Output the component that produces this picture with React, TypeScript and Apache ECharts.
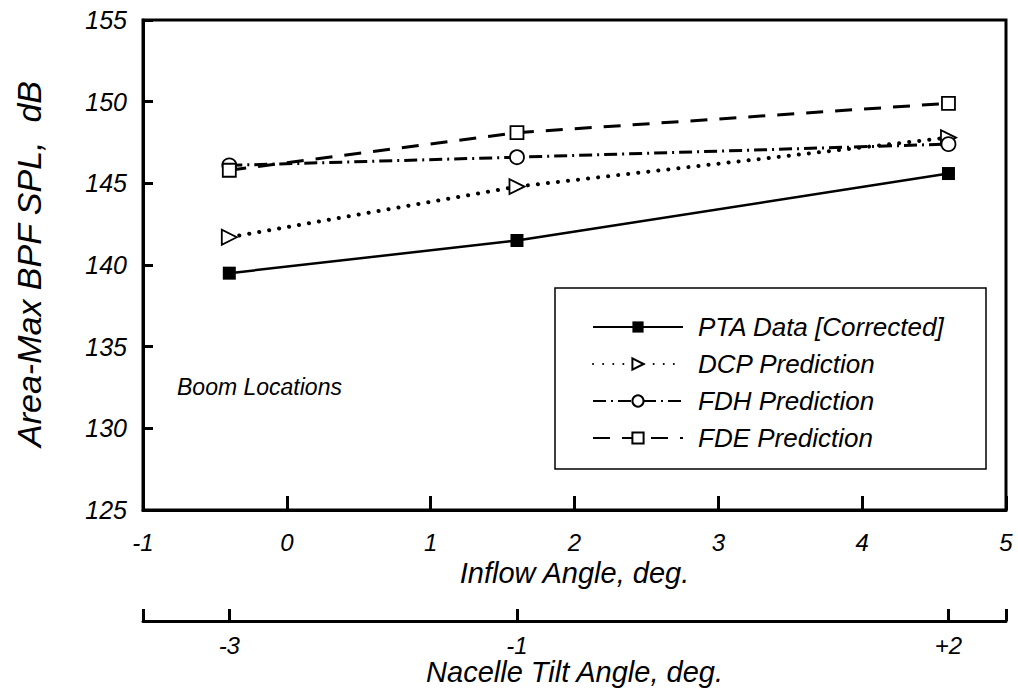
import React, { useEffect, useRef } from "react";
import * as echarts from "echarts";

const inflowAngle = [-0.4, 1.6, 4.6];
const ptaData = [139.5, 141.5, 145.6];
const dcpPred = [141.7, 144.8, 147.8];
const fdhPred = [146.1, 146.6, 147.4];
const fdePred = [145.8, 148.1, 149.9];
const nacelleTicks = [-3, -1, 2];
const nacelleOffset = 2.6; // inflow = nacelle + offset

const FONT = "'Liberation Sans', Arial, Helvetica, sans-serif";

export default function App() {
  const ref = useRef<HTMLDivElement>(null);
  useEffect(() => {
    if (!ref.current) return;
    const chart = echarts.init(ref.current, null, { renderer: "svg" });
    const pts = (ys: number[]) => inflowAngle.map((x, i) => [x, ys[i]]);
    const txt = { color: "#000", fontFamily: FONT, fontStyle: "italic" as const };
    const base = {
      type: "line" as const,
      xAxisIndex: 0,
      yAxisIndex: 0,
      emphasis: { disabled: true },
      z: 3,
    };
    chart.setOption({
      animation: false,
      backgroundColor: "#fff",
      grid: [
        { left: 143, right: 12, top: 20, bottom: 184, show: true, borderColor: "#000", borderWidth: 3 },
        { left: 143, right: 12, top: 604, bottom: 73 },
      ],
      xAxis: [
        {
          gridIndex: 0,
          type: "value",
          min: -1,
          max: 5,
          interval: 1,
          splitLine: { show: false },
          axisLine: { onZero: false, lineStyle: { color: "#000", width: 3 } },
          axisTick: { inside: true, length: 14, lineStyle: { color: "#000", width: 3 } },
          axisLabel: { ...txt, fontSize: 24, margin: 20 },
          name: "Inflow Angle, deg.",
          nameLocation: "middle",
          nameGap: 28,
          nameTextStyle: { ...txt, fontSize: 29 },
        },
        {
          gridIndex: 1,
          type: "value",
          min: -1 - nacelleOffset,
          max: 5 - nacelleOffset,
          splitLine: { show: false },
          axisLine: { onZero: false, lineStyle: { color: "#000", width: 3 } },
          axisTick: {
            inside: true,
            length: 12,
            customValues: [-1 - nacelleOffset, ...nacelleTicks, 5 - nacelleOffset],
            lineStyle: { color: "#000", width: 3 },
          },
          axisLabel: {
            ...txt,
            fontSize: 24,
            margin: 12,
            customValues: nacelleTicks,
            formatter: (v: number) => (v > 0 ? "+" + v : String(v)),
          },
          name: "Nacelle Tilt Angle, deg.",
          nameLocation: "middle",
          nameGap: 32,
          nameTextStyle: { ...txt, fontSize: 29 },
        },
      ],
      yAxis: [
        {
          gridIndex: 0,
          type: "value",
          min: 125,
          max: 155,
          interval: 5,
          splitLine: { show: false },
          axisLine: { onZero: false, lineStyle: { color: "#000", width: 3 } },
          axisTick: { inside: true, length: 10, lineStyle: { color: "#000", width: 3 } },
          axisLabel: { ...txt, fontSize: 25, margin: 16 },
        },
        { gridIndex: 1, type: "value", show: false, min: 0, max: 1 },
      ],
      legend: {
        orient: "vertical",
        left: 587,
        top: 309,
        itemWidth: 90,
        itemHeight: 14,
        itemGap: 11,
        selectedMode: false,
        textStyle: { ...txt, fontSize: 26, lineHeight: 26, padding: [0, 0, 0, 10] },
        data: ["PTA Data [Corrected]", "DCP Prediction", "FDH Prediction", "FDE Prediction"],
      },
      graphic: [
        {
          type: "rect",
          shape: { x: 555, y: 288, width: 431, height: 181 },
          style: { fill: "#fff", stroke: "#000", lineWidth: 1.5 },
          z: 1,
        },
        {
          type: "text",
          x: 177,
          y: 387,
          style: {
            text: "Boom Locations",
            fill: "#000",
            fontFamily: FONT,
            fontStyle: "italic",
            fontSize: 23,
            verticalAlign: "middle",
          },
        },
        {
          type: "text",
          x: 29,
          y: 264,
          rotation: Math.PI / 2,
          style: {
            text: "Area-Max BPF SPL,  dB",
            fill: "#000",
            fontFamily: FONT,
            fontStyle: "italic",
            fontSize: 34,
            align: "center",
            verticalAlign: "middle",
          },
        },
      ],
      series: [
        {
          ...base,
          name: "PTA Data [Corrected]",
          data: pts(ptaData),
          symbol: "rect",
          symbolSize: 13,
          itemStyle: { color: "#000" },
          lineStyle: { color: "#000", width: 2.5 },
        },
        {
          ...base,
          name: "DCP Prediction",
          data: pts(dcpPred),
          symbol: "triangle",
          symbolRotate: -90,
          symbolSize: 15,
          itemStyle: { color: "#fff", borderColor: "#000", borderWidth: 1.8 },
          lineStyle: { color: "#000", width: 4, type: [0.1, 10], cap: "round" },
        },
        {
          ...base,
          name: "FDH Prediction",
          data: pts(fdhPred),
          symbol: "circle",
          symbolSize: 14,
          itemStyle: { color: "#fff", borderColor: "#000", borderWidth: 1.8 },
          lineStyle: { color: "#000", width: 3, type: [13, 5, 2, 5] },
        },
        {
          ...base,
          name: "FDE Prediction",
          data: pts(fdePred),
          symbol: "rect",
          symbolSize: 13,
          itemStyle: { color: "#fff", borderColor: "#000", borderWidth: 1.8 },
          lineStyle: { color: "#000", width: 3, type: [17, 12] },
        },
      ],
    });
    return () => chart.dispose();
  }, []);
  return <div ref={ref} style={{ width: 1018, height: 694, position: "absolute", left: 0, top: 0 }} />;
}
